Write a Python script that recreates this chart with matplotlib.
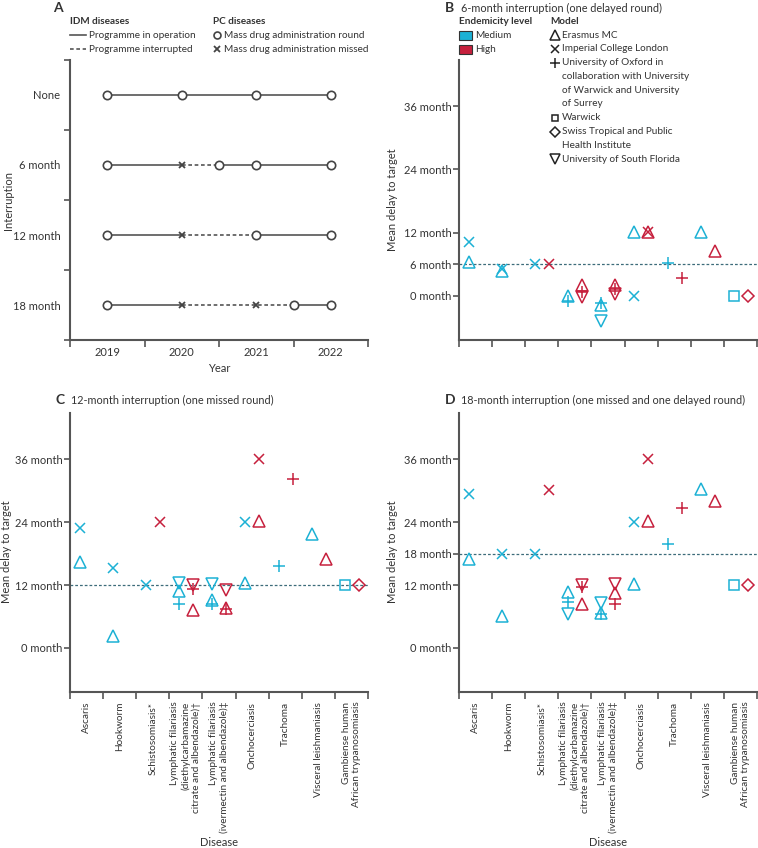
import matplotlib
matplotlib.use("Agg")
import matplotlib.pyplot as plt
from matplotlib.patches import Rectangle

plt.rcParams["font.family"] = ["Lato", "DejaVu Sans"]

W, H = 758, 848
MEDIUM = "#1cb1d5"
HIGH = "#c6203d"
AXIS = "#555555"
TEXT = "#333333"
REF = "#3d6c7a"
N = None

# panel A: programme schedule per interruption scenario
scenarios = ["None", "6 month", "12 month", "18 month"]
years = [2019, 2020, 2021, 2022]
mda_rounds = [[2019, 2020, 2021, 2022], [2019, 2020.5, 2021, 2022],
              [2019, 2021, 2022], [2019, 2021.5, 2022]]
mda_missed = [[], [2020], [2020], [2020, 2021]]
interrupt_start = [N, 2020, 2020, 2020]
interrupt_end = [N, 2020.5, 2021, 2021.5]

diseases = [
    "Ascaris",
    "Hookworm",
    "Schistosomiasis*",
    "Lymphatic filariasis\n(diethylcarbamazine\ncitrate and albendazole)\u2020",
    "Lymphatic filariasis\n(ivermectin and albendazole)\u2021",
    "Onchocerciasis",
    "Trachoma",
    "Visceral leishmaniasis",
    "Gambiense human\nAfrican trypanosomiasis",
]

models = ["erasmus", "imperial", "oxford", "warwick", "swiss", "usf"]
model_markers = {"erasmus": "^", "imperial": "x", "oxford": "+",
                 "warwick": "s", "swiss": "D", "usf": "v"}
model_names = [
    ["Erasmus MC"],
    ["Imperial College London"],
    ["University of Oxford in", "collaboration with University",
     "of Warwick and University", "of Surrey"],
    ["Warwick"],
    ["Swiss Tropical and Public", "Health Institute"],
    ["University of South Florida"],
]

# mean delay to target (months), one value per disease, None = not modelled
b_medium = {
    "erasmus": [6.5, 4.8, N, 0.0, -1.7, 12.2, N, 12.2, N],
    "imperial": [10.2, 5.0, 6.0, N, N, 0.0, N, N, N],
    "oxford": [N, N, N, -0.9, -1.4, N, 6.2, N, N],
    "warwick": [N, N, N, N, N, N, N, N, 0.0],
    "usf": [N, N, N, N, -4.7, N, N, N, N],
}
b_high = {
    "erasmus": [N, N, N, 2.0, 2.1, 12.2, N, 8.6, N],
    "imperial": [N, N, 6.0, N, N, 12.2, N, N, N],
    "oxford": [N, N, N, 0.8, 1.3, N, 3.4, N, N],
    "swiss": [N, N, N, N, N, N, N, N, 0.0],
    "usf": [N, N, N, -0.3, 0.4, N, N, N, N],
}
c_medium = {
    "erasmus": [16.4, 2.3, N, 10.9, 9.1, 12.3, N, 21.8, N],
    "imperial": [22.8, 15.2, 12.0, N, N, 24.0, N, N, N],
    "oxford": [N, N, N, 8.4, 8.4, N, 15.7, N, N],
    "warwick": [N, N, N, N, N, N, N, N, 12.0],
    "usf": [N, N, N, 12.3, 12.1, N, N, N, N],
}
c_high = {
    "erasmus": [N, N, N, 7.2, 7.6, 24.2, N, 16.9, N],
    "imperial": [N, N, 24.1, N, N, 36.0, N, N, N],
    "oxford": [N, N, N, 11.2, 7.4, N, 32.3, N, N],
    "swiss": [N, N, N, N, N, N, N, N, 12.0],
    "usf": [N, N, N, 12.0, 11.0, N, N, N, N],
}
d_medium = {
    "erasmus": [17.0, 6.1, N, 10.7, 6.7, 12.2, N, 30.4, N],
    "imperial": [29.4, 18.0, 18.0, N, N, 24.0, N, N, N],
    "oxford": [N, N, N, 8.7, 6.5, N, 19.9, N, N],
    "warwick": [N, N, N, N, N, N, N, N, 12.0],
    "usf": [N, N, N, 6.4, 8.6, N, N, N, N],
}
d_high = {
    "erasmus": [N, N, N, 8.3, 10.5, 24.2, N, 28.0, N],
    "imperial": [N, N, 30.1, N, N, 36.0, N, N, N],
    "oxford": [N, N, N, 11.6, 8.3, N, 26.6, N, N],
    "swiss": [N, N, N, N, N, N, N, N, 12.0],
    "usf": [N, N, N, 12.0, 12.1, N, N, N, N],
}

marker_size = {"^": 9, "v": 9, "x": 7, "+": 9, "s": 6.5, "D": 6.5}


def rect(left, top, right, bottom):
    return [left / W, 1 - bottom / H, (right - left) / W, (bottom - top) / H]


def style_axes(ax):
    ax.patch.set_alpha(0)
    for side in ["top", "right"]:
        ax.spines[side].set_visible(False)
    for side in ["left", "bottom"]:
        ax.spines[side].set_color(AXIS)
        ax.spines[side].set_linewidth(1.5)
    ax.tick_params(which="major", length=4, width=1.2, color=AXIS,
                   labelsize=8, labelcolor=TEXT, pad=1.5)
    ax.tick_params(which="minor", length=0, labelsize=8, labelcolor=TEXT)


def disease_panel(ax, medium, high, ref):
    style_axes(ax)
    for data, colour, offset in [(medium, MEDIUM, 0.3), (high, HIGH, 0.72)]:
        for model, vals in data.items():
            xs = [i + offset for i, v in enumerate(vals) if v is not None]
            ys = [v for v in vals if v is not None]
            m = model_markers[model]
            ax.plot(xs, ys, ls="none", marker=m, ms=marker_size[m],
                    mfc="none", mec=colour, mew=1.1, zorder=3)
    ax.axhline(ref, color=REF, lw=0.9, ls=(0, (2.2, 1.6)), zorder=1)
    ax.set_xlim(0, len(diseases))
    ax.set_ylim(-8.4, 44.8)
    yt = sorted(set([0, 12, 24, 36, ref]))
    ax.set_yticks(yt, [f"{t} month" for t in yt])
    ax.set_xticks(range(len(diseases) + 1), [])
    ax.set_xticks([i + 0.5 for i in range(len(diseases))], diseases,
                  minor=True, rotation=90, ha="center", va="top",
                  multialignment="right")
    ax.tick_params(axis="x", which="major", length=5)
    ax.tick_params(axis="x", which="minor", pad=7, labelsize=7.2)


fig = plt.figure(figsize=(W / 100, H / 100), dpi=100)

# panel A
axA = fig.add_axes(rect(70, 60, 368, 340))
style_axes(axA)
for i, name in enumerate(scenarios):
    lk = dict(color=AXIS, lw=1.2, zorder=1)
    if interrupt_start[i] is None:
        axA.plot([years[0], years[-1]], [i, i], **lk)
    else:
        axA.plot([years[0], interrupt_start[i]], [i, i], **lk)
        axA.plot([interrupt_start[i], interrupt_end[i]], [i, i],
                 ls=(0, (2.2, 1.6)), **lk)
        axA.plot([interrupt_end[i], years[-1]], [i, i], **lk)
    axA.plot(mda_rounds[i], [i] * len(mda_rounds[i]), ls="none", marker="o",
             ms=6, mfc="white", mec="#444444", mew=1.2, zorder=3)
    axA.plot(mda_missed[i], [i] * len(mda_missed[i]), ls="none", marker="x",
             ms=4.5, mec="#444444", mew=1.3, zorder=3)
axA.set_xlim(years[0] - 0.5, years[-1] + 0.5)
axA.set_ylim(len(scenarios) - 0.5, -0.5)
axA.set_xticks([y - 0.5 for y in years] + [years[-1] + 0.5], [])
axA.set_xticks(years, [str(y) for y in years], minor=True)
axA.set_yticks([i - 0.5 for i in range(len(scenarios) + 1)], [])
axA.set_yticks(range(len(scenarios)), scenarios, minor=True)
axA.tick_params(axis="x", which="major", length=5)
axA.tick_params(axis="x", which="minor", pad=5)
axA.tick_params(axis="y", which="minor", pad=7)

axB = fig.add_axes(rect(459, 60, 757, 340))
disease_panel(axB, b_medium, b_high, 6)
axB.tick_params(axis="x", which="minor", labelbottom=False)

axC = fig.add_axes(rect(70, 413, 368, 692))
disease_panel(axC, c_medium, c_high, 12)

axD = fig.add_axes(rect(459, 413, 757, 692))
disease_panel(axD, d_medium, d_high, 18)

# overlay in pixel coordinates for titles and legends
ov = fig.add_axes([0, 0, 1, 1], zorder=10)
ov.patch.set_alpha(0)
ov.set_xlim(0, W)
ov.set_ylim(H, 0)
ov.axis("off")

tk = dict(color=TEXT, va="center", ha="left")
tfs = 7.8
ov.text(53, 8, "A", fontsize=10, fontweight="bold", **tk)
ov.text(445, 8, "B", fontsize=10, fontweight="bold", **tk)
ov.text(461, 8, "6-month interruption (one delayed round)", fontsize=tfs, **tk)
ov.text(55, 400, "C", fontsize=10, fontweight="bold", **tk)
ov.text(71, 400, "12-month interruption (one missed round)", fontsize=tfs, **tk)
ov.text(445, 400, "D", fontsize=10, fontweight="bold", **tk)
ov.text(461, 400, "18-month interruption (one missed and one delayed round)",
        fontsize=tfs, **tk)

# axis titles
rk = dict(color=TEXT, fontsize=8, ha="center", va="center")
ov.text(9, 200, "Interruption", rotation=90, **rk)
ov.text(393, 200, "Mean delay to target", rotation=90, **rk)
ov.text(7, 552, "Mean delay to target", rotation=90, **rk)
ov.text(393, 552, "Mean delay to target", rotation=90, **rk)
ov.text(219, 368, "Year", **rk)
ov.text(219, 843, "Disease", **rk)
ov.text(608, 843, "Disease", **rk)

# legend panel A
fs = 7.2
ov.text(70, 22, "IDM diseases", fontsize=fs, fontweight="bold", **tk)
ov.plot([70, 86], [35, 35], color=AXIS, lw=1.2)
ov.text(89, 35, "Programme in operation", fontsize=fs, **tk)
ov.plot([70, 86], [49, 49], color=AXIS, lw=1.2, ls=(0, (2.2, 1.6)))
ov.text(89, 49, "Programme interrupted", fontsize=fs, **tk)
ov.text(213, 22, "PC diseases", fontsize=fs, fontweight="bold", **tk)
ov.plot([217], [35], marker="o", ms=5, mfc="white", mec="#444444", mew=1.2)
ov.text(224, 35, "Mass drug administration round", fontsize=fs, **tk)
ov.plot([217], [49], marker="x", ms=4.5, mec="#444444", mew=1.3)
ov.text(224, 49, "Mass drug administration missed", fontsize=fs, **tk)

# legend panel B
ov.text(459, 22, "Endemicity level", fontsize=fs, fontweight="bold", **tk)
for y, colour, label in [(35, MEDIUM, "Medium"), (49, HIGH, "High")]:
    ov.add_patch(Rectangle((459, y - 4.5), 13, 9, facecolor=colour,
                           edgecolor="#333333", lw=0.8))
    ov.text(475, y, label, fontsize=fs, **tk)
ov.text(550, 22, "Model", fontsize=fs, fontweight="bold", **tk)
row = 35
for model, lines in zip(models, model_names):
    m = model_markers[model]
    ov.plot([555], [row], marker=m, ms=marker_size[m] * 0.75, mfc="none",
            mec="#222222", mew=1.1)
    for ln in lines:
        ov.text(562, row, ln, fontsize=fs, **tk)
        row += 13.8

fig.savefig("out.png", dpi=100)
